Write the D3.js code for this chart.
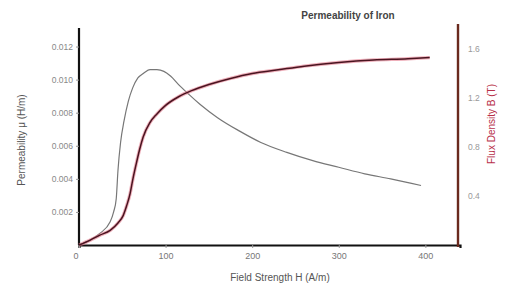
<!DOCTYPE html>
<html>
<head>
<meta charset="utf-8">
<script src="https://cdn.jsdelivr.net/npm/d3@7"></script>
<style>
  body { margin: 0; background: #fff; }
  text { font-family: "Liberation Sans", Arial, sans-serif; }
</style>
</head>
<body>
<div class="chart"></div>
<script>
(function() {
  var width = 506, height = 286;

  // data
  var muH = [0, 13, 24, 36, 40, 43, 45, 48, 52, 57, 62, 68, 75, 82, 90, 98, 106, 115, 125, 140, 160, 185, 210, 240, 270, 300, 330, 360, 395];
  var muVal = [0, 0.0003, 0.0007, 0.0014, 0.0020, 0.0028, 0.0045, 0.0062, 0.0075, 0.0087, 0.0095, 0.0101, 0.0104, 0.0106, 0.0106, 0.0105, 0.0102, 0.0097, 0.0092, 0.0085, 0.0077, 0.0069, 0.0062, 0.0056, 0.0051, 0.0047, 0.0043, 0.0040, 0.0036];
  var bH = [0, 13, 24, 36, 45, 51, 55, 59, 62, 66, 70, 74, 82, 90, 100, 115, 130, 150, 175, 200, 230, 260, 300, 340, 380, 405];
  var bVal = [0, 0.04, 0.08, 0.12, 0.18, 0.24, 0.32, 0.42, 0.53, 0.66, 0.78, 0.88, 1.0, 1.07, 1.14, 1.21, 1.26, 1.31, 1.36, 1.40, 1.43, 1.46, 1.49, 1.51, 1.52, 1.53];
  var xTicks = [0, 100, 200, 300, 400];
  var xTickLabels = ["0", "100", "200", "300", "400"];
  var muTicks = [0.002, 0.004, 0.006, 0.008, 0.010, 0.012];
  var muTickLabels = ["0.002", "0.004", "0.006", "0.008", "0.010", "0.012"];
  var bTicks = [0.4, 0.8, 1.2, 1.6];
  var bTickLabels = ["0.4", "0.8", "1.2", "1.6"];

  var svg = d3.select(".chart").append("svg")
    .attr("width", width)
    .attr("height", height);

  var x = d3.scaleLinear().domain([0, 440]).range([79, 460]);
  var yMu = d3.scaleLinear().domain([0, 0.013]).range([245, 30]);
  var yB = d3.scaleLinear().domain([0, 1.8]).range([245, 24.5]);

  // x axis
  var gx = svg.append("g").attr("transform", "translate(0,245)")
    .call(d3.axisBottom(x).tickValues(xTicks).tickSize(3)
      .tickFormat(function(d, i) { return xTickLabels[i]; }));
  gx.select(".domain").attr("stroke", "#111").attr("stroke-width", 2.2);
  gx.selectAll(".tick line").attr("stroke", "#999");
  gx.selectAll(".tick text").attr("fill", "#777").attr("font-size", 9).attr("dy", "0.9em");
  gx.selectAll(".tick").filter(function(d) { return d === 0; }).select("text").attr("dx", "-0.4em");

  // left axis
  var gl = svg.append("g").attr("transform", "translate(79,0)")
    .call(d3.axisLeft(yMu).tickValues(muTicks).tickSize(3)
      .tickFormat(function(d, i) { return muTickLabels[i]; }));
  gl.select(".domain").attr("stroke", "#111").attr("stroke-width", 2.2)
    .attr("d", "M0," + yMu(0) + "V28");
  gl.selectAll(".tick line").attr("stroke", "#999");
  gl.selectAll(".tick text").attr("fill", "#888").attr("font-size", 8.5);

  // right axis
  var gr = svg.append("g").attr("transform", "translate(458,0)")
    .call(d3.axisRight(yB).tickValues(bTicks).tickSize(0).tickPadding(10)
      .tickFormat(function(d, i) { return bTickLabels[i]; }));
  gr.select(".domain").attr("stroke", "#6a2a1e").attr("stroke-width", 2.4)
    .attr("d", "M0,247V24");
  gr.selectAll(".tick text").attr("fill", "#999").attr("font-size", 8.5);

  // curves
  var muLine = d3.line()
    .x(function(d) { return x(d[0]); })
    .y(function(d) { return yMu(d[1]); })
    .curve(d3.curveMonotoneX);
  var bLine = d3.line()
    .x(function(d) { return x(d[0]); })
    .y(function(d) { return yB(d[1]); })
    .curve(d3.curveMonotoneX);

  svg.append("path")
    .attr("d", muLine(d3.zip(muH, muVal)))
    .attr("fill", "none")
    .attr("stroke", "#777")
    .attr("stroke-width", 1.2);

  var bPts = d3.zip(bH, bVal);
  svg.append("path")
    .attr("d", bLine(bPts))
    .attr("fill", "none")
    .attr("stroke", "#e27a8c")
    .attr("stroke-width", 3.4)
    .attr("stroke-opacity", 0.6);
  svg.append("path")
    .attr("d", bLine(bPts))
    .attr("fill", "none")
    .attr("stroke", "#4a1420")
    .attr("stroke-width", 1.5);

  // labels
  svg.append("text").attr("x", 348).attr("y", 19).attr("text-anchor", "middle")
    .attr("fill", "#444").attr("font-size", 10).attr("font-weight", "bold")
    .text("Permeability of Iron");

  svg.append("text").attr("x", 280).attr("y", 281).attr("text-anchor", "middle")
    .attr("fill", "#555").attr("font-size", 10)
    .text("Field Strength H (A/m)");

  svg.append("text").attr("transform", "translate(25,140) rotate(-90)")
    .attr("text-anchor", "middle").attr("fill", "#555").attr("font-size", 10)
    .text("Permeability \u03bc (H/m)");

  svg.append("text").attr("transform", "translate(495,124) rotate(-90)")
    .attr("text-anchor", "middle").attr("fill", "#b8304a").attr("font-size", 10)
    .text("Flux Density B (T)");
})();
</script>
</body>
</html>
